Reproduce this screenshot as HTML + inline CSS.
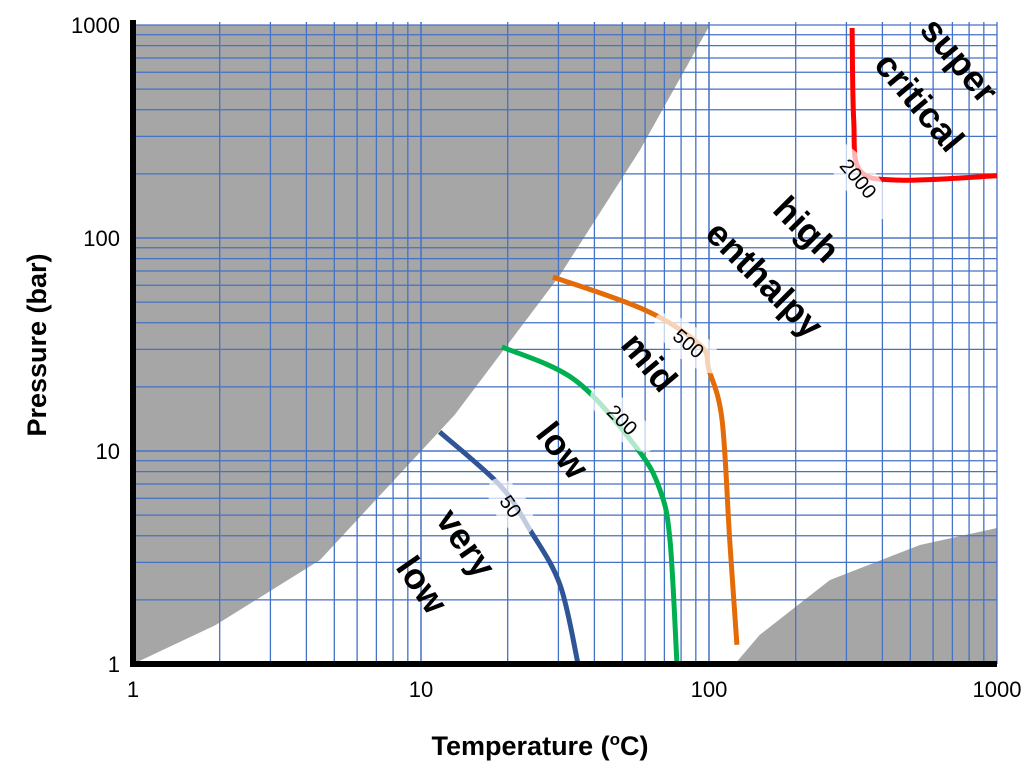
<!DOCTYPE html>
<html><head><meta charset="utf-8"><style>
html,body{margin:0;padding:0;background:#fff;}
svg{display:block;font-family:"Liberation Sans",sans-serif;}
.big{font-weight:bold;font-size:36px;fill:#000;}
.tick{font-size:22px;fill:#000;}
.clab{font-size:20px;fill:#000;}
</style></head><body>
<svg id="chart" width="1024" height="765" viewBox="0 0 1024 765">
<g id="areas"></g>
<g id="grid"></g>
<g id="curves"></g>
<g id="labels"></g>
<line x1="133" y1="20" x2="133" y2="667" stroke="#000" stroke-width="6"/>
<line x1="130" y1="664" x2="997" y2="664" stroke="#000" stroke-width="6"/>
<g id="ticks"></g>
<text x="540" y="755" text-anchor="middle" font-weight="bold" font-size="27">Temperature (<tspan font-size="17" dy="-10">o</tspan><tspan dy="10">C)</tspan></text>
<text transform="translate(46,345) rotate(-90)" text-anchor="middle" font-weight="bold" font-size="27">Pressure (bar)</text>
<g>
<text class="big" transform="translate(456,550) rotate(55)" text-anchor="middle">very</text>
<text class="big" transform="translate(412,592) rotate(55)" text-anchor="middle">low</text>
<text class="big" transform="translate(553,458) rotate(52)" text-anchor="middle">low</text>
<text class="big" transform="translate(640,370) rotate(50)" text-anchor="middle">mid</text>
<text class="big" transform="translate(798,238) rotate(45)" text-anchor="middle">high</text>
<text class="big" transform="translate(756,288) rotate(45)" text-anchor="middle">enthalpy</text>
<text class="big" transform="translate(950,68) rotate(50)" text-anchor="middle">super</text>
<text class="big" transform="translate(910,110) rotate(50)" text-anchor="middle">critical</text>
</g>
</svg>
<script>
const xTicks=[1,10,100,1000];
const yTicks=[1,10,100,1000];
const grayLeftT=[1,1.93,4.46,13.1,30.4,57.6,100.7];
const grayLeftP=[1,1.52,3.08,14.8,67,259,1000];
const grayRightT=[123,150,263,540,1000];
const grayRightP=[1,1.37,2.48,3.62,4.35];
const curveNames=['50','200','500','2000'];
const curveColors=['#2f5597','#00b050','#e36c09','#ff0000'];
const curveT=[[11.6,18.8,23.9,30.4,35.1],[19.1,34.3,56.2,67.6,73.2,77.4],[28.7,59.9,93,100,111,118,125],[314,318,334,460,1000]];
const curveP=[[12.3,6.9,4.26,2.35,1],[30.8,21.5,10.3,6.56,3.82,1],[65.6,45.9,31.5,24,14,3.82,1.23],[968,358,208,187,196]];
const labelT=[20.5,50,85,330];
const labelP=[5.5,14,32,190];
const labelRot=[55,45,40,50];
const NS='http://www.w3.org/2000/svg';
const X0=133,XD=288,Y0=664,YD=213;
const fx=t=>X0+XD*Math.log10(t);
const fy=p=>Y0-YD*Math.log10(p);
function mk(tag,attrs,parent){const e=document.createElementNS(NS,tag);for(const k in attrs)e.setAttribute(k,attrs[k]);parent.appendChild(e);return e;}
const grid=document.getElementById('grid');
for(let d=0;d<3;d++)for(let m=1;m<=10;m++){
  if(m===1&&d===0)continue;
  const v=Math.pow(10,d)*m;
  const lx=mk('line',{x1:fx(v),x2:fx(v),y1:22,y2:664,stroke:'#4472c4','stroke-width':1.3},grid);
  
  
  const ly=mk('line',{x1:133,x2:997,y1:fy(v),y2:fy(v),stroke:'#4472c4','stroke-width':1.3},grid);
  
  
}
const areas=document.getElementById('areas');
let d='M'+fx(1)+','+fy(1000);
for(let i=grayLeftT.length-1;i>=0;i--)d+=' L'+fx(grayLeftT[i])+','+fy(grayLeftP[i]);
d+=' Z';
const g1=mk('path',{d:d,fill:'#a6a6a6'},areas);


let d2='M'+fx(grayRightT[0])+','+fy(grayRightP[0]);
for(let i=1;i<grayRightT.length;i++)d2+=' L'+fx(grayRightT[i])+','+fy(grayRightP[i]);
d2+=' L'+fx(1000)+','+fy(1)+' Z';
const g2=mk('path',{d:d2,fill:'#a6a6a6'},areas);


function smooth(pts){let s='M'+pts[0][0]+','+pts[0][1];
  for(let i=0;i<pts.length-1;i++){const p0=pts[i-1]||pts[i],p1=pts[i],p2=pts[i+1],p3=pts[i+2]||p2;
    s+=' C'+(p1[0]+(p2[0]-p0[0])/6)+','+(p1[1]+(p2[1]-p0[1])/6)+' '+(p2[0]-(p3[0]-p1[0])/6)+','+(p2[1]-(p3[1]-p1[1])/6)+' '+p2[0]+','+p2[1];}
  return s;}
const curves=document.getElementById('curves');
const labels=document.getElementById('labels');
for(let c=0;c<curveT.length;c++){
  const pts=curveT[c].map((t,i)=>[fx(t),fy(curveP[c][i])]);
  const p=mk('path',{d:smooth(pts),fill:'none',stroke:curveColors[c],'stroke-width':5},curves);
  
  
  const lx=fx(labelT[c]),ly=fy(labelP[c]);
  const halo=mk('ellipse',{cx:lx,cy:ly,rx:curveNames[c].length*10+12,ry:17,fill:'#fff','fill-opacity':0.7,transform:'rotate('+labelRot[c]+' '+lx+' '+ly+')'},labels);
  
  
  const t=mk('text',{class:'clab','text-anchor':'middle',transform:'translate('+lx+','+(ly)+') rotate('+labelRot[c]+') translate(0,7)'},labels);
  t.textContent=curveNames[c];
  
  
}
const ticks=document.getElementById('ticks');
xTicks.forEach(v=>{const t=mk('text',{class:'tick',x:fx(v),y:697,'text-anchor':'middle'},ticks);t.textContent=v;
  
  });
yTicks.forEach(v=>{const t=mk('text',{class:'tick',x:120,y:fy(v)+8,'text-anchor':'end'},ticks);t.textContent=v;
  
  });
</script>
</body></html>
